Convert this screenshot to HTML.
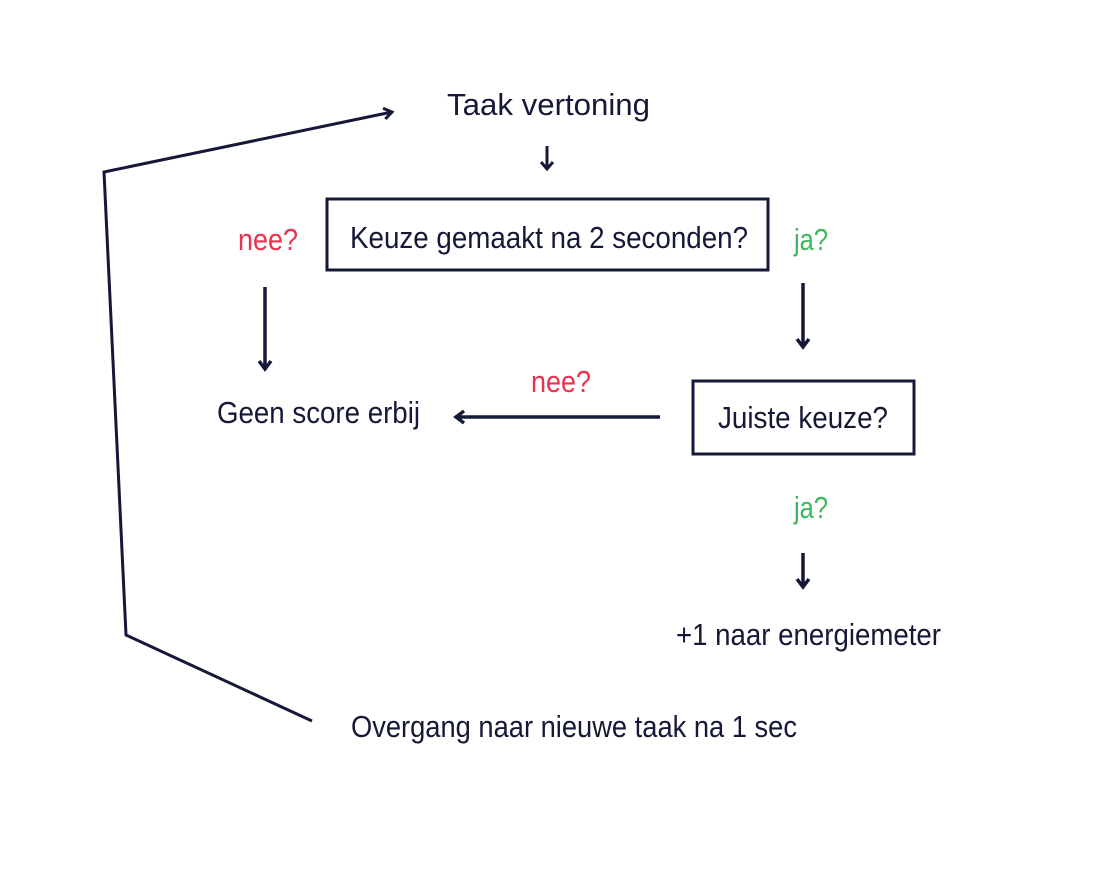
<!DOCTYPE html>
<html><head><meta charset="utf-8"><style>
html,body{margin:0;padding:0;background:#fff;}
svg{display:block;}
text{font-family:"Liberation Sans Narrow","Liberation Sans",sans-serif;font-size:31px;}
</style></head><body>
<svg width="1096" height="881" viewBox="0 0 1096 881" xmlns="http://www.w3.org/2000/svg">
<defs>
<marker id="a" markerWidth="14" markerHeight="14" refX="10" refY="7" orient="auto" markerUnits="userSpaceOnUse">
<path d="M2,1.5 L10,7 L2,12.5" fill="none" stroke="#161838" stroke-width="3"/>
</marker>
</defs>
<g fill="#161838">
<text x="447" y="115" textLength="203" lengthAdjust="spacingAndGlyphs" font-size="33">Taak vertoning</text>
<text x="350" y="248" textLength="398" lengthAdjust="spacingAndGlyphs">Keuze gemaakt na 2 seconden?</text>
<text x="217" y="423" textLength="203" lengthAdjust="spacingAndGlyphs">Geen score erbij</text>
<text x="718" y="428" textLength="170" lengthAdjust="spacingAndGlyphs">Juiste keuze?</text>
<text x="676" y="645" textLength="265" lengthAdjust="spacingAndGlyphs">+1 naar energiemeter</text>
<text x="351" y="737" textLength="446" lengthAdjust="spacingAndGlyphs">Overgang naar nieuwe taak na 1 sec</text>
</g>
<g fill="#e8324f">
<text x="238" y="250" textLength="60" lengthAdjust="spacingAndGlyphs">nee?</text>
<text x="531" y="392" textLength="60" lengthAdjust="spacingAndGlyphs">nee?</text>
</g>
<g fill="#3fb75c">
<text x="794" y="250" textLength="34" lengthAdjust="spacingAndGlyphs">ja?</text>
<text x="794" y="518" textLength="34" lengthAdjust="spacingAndGlyphs">ja?</text>
</g>
<g stroke="#161838" fill="none">
<rect x="327" y="199" width="441" height="71" stroke-width="3"/>
<rect x="693" y="381" width="221" height="73" stroke-width="3"/>
<path d="M547,146 L547,169" stroke-width="3"/>
<path d="M541,162 L547,169 L553,162" stroke-width="3"/>
<path d="M265,287 L265,369" stroke-width="3.5"/>
<path d="M259,361 L265,369 L271,361" stroke-width="3.5"/>
<path d="M803,283 L803,347" stroke-width="3.5"/>
<path d="M797,339 L803,347 L809,339" stroke-width="3.5"/>
<path d="M803,553 L803,587" stroke-width="3.5"/>
<path d="M797,579 L803,587 L809,579" stroke-width="3.5"/>
<path d="M660,417 L456,417" stroke-width="3.5"/>
<path d="M464,411 L456,417 L464,423" stroke-width="3.5"/>
<path d="M312,721 L126,635 L104,172 L392,112" stroke-width="3" marker-end="url(#a)"/>
</g>
</svg>
</body></html>
